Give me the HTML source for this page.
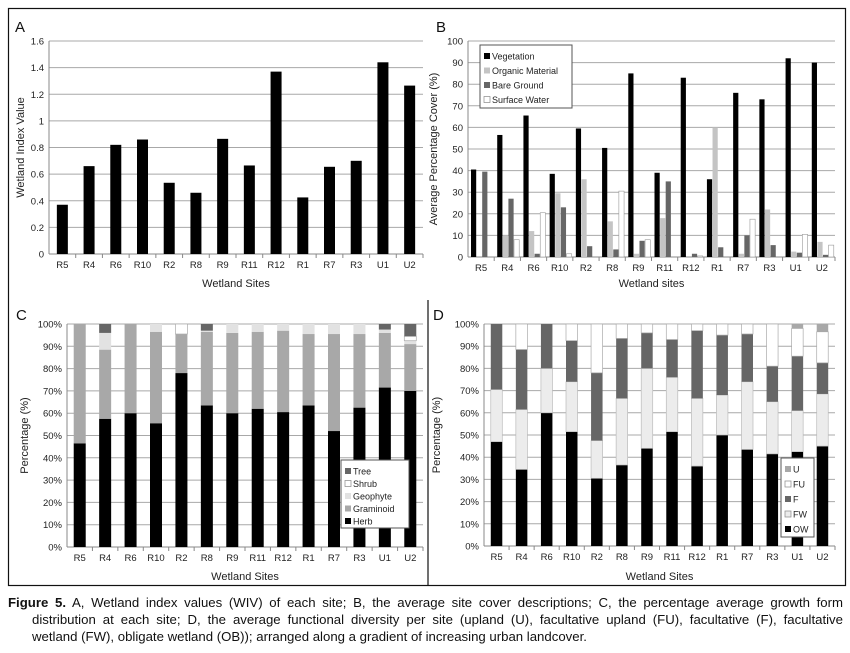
<!DOCTYPE html>
<html><head><meta charset="utf-8">
<style>
body{margin:0;background:#fff;width:850px;height:653px;overflow:hidden;font-family:"Liberation Sans",sans-serif;}
svg{position:absolute;left:0;top:0}
.cap{position:absolute;left:8px;width:835px;font-family:"Liberation Sans",sans-serif;font-size:13.2px;color:#111;line-height:17px;}
.cap div{white-space:nowrap;text-align:justify;text-align-last:justify;}
.cap div.last{text-align-last:left}
</style></head>
<body>
<svg id="fig" width="850" height="590"></svg>
<div class="cap" style="top:594px">
<div><b>Figure 5.</b> A, Wetland index values (WIV) of each site; B, the average site cover descriptions; C, the percentage average growth form</div>
<div style="padding-left:24px">distribution at each site; D, the average functional diversity per site (upland (U), facultative upland (FU), facultative (F), facultative</div>
<div class="last" style="padding-left:24px">wetland (FW), obligate wetland (OB)); arranged along a gradient of increasing urban landcover.</div>
</div>
<script>
const sites = ["R5","R4","R6","R10","R2","R8","R9","R11","R12","R1","R7","R3","U1","U2"];
const wivValues = [0.37,0.66,0.82,0.86,0.535,0.46,0.865,0.665,1.37,0.425,0.655,0.70,1.44,1.265];
const wivTicks = ["0","0.2","0.4","0.6","0.8","1","1.2","1.4","1.6"];
const vegetation = [40.5,56.5,65.5,38.5,59.5,50.5,85,39,83,36,76,73,92,90];
const organic = [0,10,12,29.5,36,16.5,1.5,18,0,60,1.5,22,2.5,7];
const bare = [39.5,27,1.5,23,5,3.5,7.5,35,1.5,4.5,10,5.5,2,1];
const water = [0,8,20.5,1.5,0,30.5,8,0,0.5,0,17.5,0,10.5,5.5];
const coverTicks = ["0","10","20","30","40","50","60","70","80","90","100"];
const herb = [46.5,57.5,60,55.5,78,63.5,60,62,60.5,63.5,52,62.5,71.5,70];
const graminoid = [53.5,31,40,41,17.5,33,36,34.5,36.5,32,43.5,33,24.5,21];
const geophyte = [0,7.5,0,3.5,0,0.5,4,3.5,3,4.5,4.5,4.5,1.5,1.5];
const shrub = [0,0,0,0,4.5,0,0,0,0,0,0,0,0,2];
const tree = [0,4,0,0,0,3,0,0,0,0,0,0,2.5,5.5];
const ow = [47,34.5,60,51.5,30.5,36.5,44,51.5,36,50,43.5,41.5,42.5,45];
const fw = [23.5,27,20,22.5,17,30,36,24.5,30.5,18,30.5,23.5,18.5,23.5];
const fac = [29.5,27,20,18.5,30.5,27,16,17,30.5,27,21.5,16,24.5,14];
const fu = [0,11.5,0,7.5,22,6.5,4,7,3,5,4.5,19,12.5,14];
const up = [0,0,0,0,0,0,0,0,0,0,0,0,2,3.5];
const pctTicks = ["0%","10%","20%","30%","40%","50%","60%","70%","80%","90%","100%"];

const NS="http://www.w3.org/2000/svg";
const svg=document.getElementById('fig');
function mk(tag,attrs,parent){const e=document.createElementNS(NS,tag);for(const k in attrs)e.setAttribute(k,attrs[k]);(parent||svg).appendChild(e);return e;}
function txt(x,y,s,attrs,parent){const t=mk('text',Object.assign({x:x,y:y,'font-family':'Liberation Sans, sans-serif','font-size':10,fill:'#222'},attrs),parent);t.textContent=s;return t;}

// frames
let f;
f=mk('rect',{x:8.5,y:8.5,width:837,height:577,fill:'none',stroke:'#111','stroke-width':1.2});


function panel(o){
  const g=mk('g',{});
  
  const x0=o.x0,x1=o.x1,yT=o.yT,yB=o.yB,n=sites.length,gw=(x1-x0)/n;
  const nt=o.ticks.length;
  const yScale=v=>yB-(v/o.max)*(yB-yT);
  for(let i=0;i<nt;i++){
    const v=o.max*i/(nt-1),y=yScale(v);
    const gl=mk('line',{x1:x0,x2:x1,y1:y,y2:y,stroke:'#a8a8a8','stroke-width':1},g);
    
    const tl=txt(x0-5,y+3.5,o.ticks[i],{'text-anchor':'end','font-size':9.5},g);
    
  }
  mk('line',{x1:x0,x2:x0,y1:yT,y2:yB,stroke:'#888'},g);
  mk('line',{x1:x0,x2:x1,y1:yB,y2:yB,stroke:'#888'},g);
  sites.forEach((s,i)=>{
    mk('line',{x1:x0+gw*(i+1),x2:x0+gw*(i+1),y1:yB,y2:yB+4,stroke:'#888'},g);
    const l=txt(x0+gw*(i+0.5),yB+14,s,{'text-anchor':'middle','font-size':9.5},g);
    
  });
  o.draw(g,x0,gw,yScale);
  const xt=txt((x0+x1)/2,o.xtY,o.xtitle,{'text-anchor':'middle','font-size':11},g);
  
  const yt=txt(0,0,o.ytitle,{'text-anchor':'middle','font-size':11,transform:`translate(${o.ytX},${(yT+yB)/2}) rotate(-90)`},g);
  
  const pl=txt(o.lx,o.ly,o.letter,{'font-size':15,fill:'#111'},g);
  
  return g;
}
function legend(g,x,y,w,h,items,rowH){
  const lg=mk('g',{},g);
  
  mk('rect',{x:x,y:y,width:w,height:h,fill:'#fff',stroke:'#555'},lg);
  items.forEach((it,i)=>{
    const e=mk('g',{},lg);
    
    const yy=y+8+i*rowH;
    mk('rect',{x:x+4,y:yy,width:6,height:6,fill:it[1],stroke:it[2]||'none','stroke-width':0.7},e);
    txt(x+12,yy+6.5,it[0],{'font-size':9},e);
  });
}
// stacked bars
function stack(series,colors,strokes,bw){
  return function(g,x0,gw,ys){
    sites.forEach((s,i)=>{
      let acc=0;
      series.forEach((arr,k)=>{
        const v=arr[i];if(v<=0){return;}
        const r=mk('rect',{x:x0+gw*(i+0.5)-bw/2,y:ys(acc+v),width:bw,height:ys(acc)-ys(acc+v),fill:colors[k],stroke:strokes[k]||'none','stroke-width':0.7},g);
        
        acc+=v;
      });
    });
  };
}

// Panel A
panel({name:'panel-a-wiv-chart',x0:49,x1:423,yT:41,yB:254,max:1.6,ticks:wivTicks,xtitle:'Wetland Sites',ytitle:'Wetland Index Value',xtY:287,ytX:24,letter:'A',lx:15,ly:32,
 draw:(g,x0,gw,ys)=>{wivValues.forEach((v,i)=>{const r=mk('rect',{x:x0+gw*(i+0.5)-5.5,y:ys(v),width:11,height:ys(0)-ys(v),fill:'#000'},g);
 });}});

// Panel B
const gB=panel({name:'panel-b-cover-chart',x0:468,x1:835,yT:41,yB:257,max:100,ticks:coverTicks,xtitle:'Wetland sites',ytitle:'Average Percentage Cover (%)',xtY:287,ytX:437,letter:'B',lx:436,ly:32,
 draw:(g,x0,gw,ys)=>{const ser=[vegetation,organic,bare,water],col=['#000','#c4c4c4','#666','#fff'],st=[null,null,null,'#999'];
  sites.forEach((s,i)=>{ser.forEach((arr,k)=>{const v=arr[i];const r=mk('rect',{x:x0+gw*i+3+k*5.6,y:ys(v),width:5.2,height:ys(0)-ys(v),fill:col[k],stroke:st[k]||'none','stroke-width':0.6},g);
   });});}});
legend(gB,480,45,92,63,[['Vegetation','#000'],['Organic Material','#c4c4c4'],['Bare Ground','#666'],['Surface Water','#fff','#888']],14.5);

// Panel C
const gC=panel({name:'panel-c-growth-form-chart',x0:67,x1:423,yT:324,yB:547,max:100,ticks:pctTicks,xtitle:'Wetland Sites',ytitle:'Percentage (%)',xtY:580,ytX:28,letter:'C',lx:16,ly:320,
 draw:stack([herb,graminoid,geophyte,shrub,tree],['#000','#a8a8a8','#e2e2e2','#fff','#666'],[null,null,null,'#aaa',null],12)});
legend(gC,341,460,68,68,[['Tree','#666'],['Shrub','#fff','#888'],['Geophyte','#e2e2e2'],['Graminoid','#a8a8a8'],['Herb','#000']],12.5);

// Panel D
const gD=panel({name:'panel-d-functional-chart',x0:484,x1:835,yT:324,yB:546,max:100,ticks:pctTicks,xtitle:'Wetland Sites',ytitle:'Percentage (%)',xtY:580,ytX:440,letter:'D',lx:433,ly:320,
 draw:stack([ow,fw,fac,fu,up],['#000','#ececec','#666','#fff','#a8a8a8'],[null,'#bbb',null,'#aaa',null],11.5)});
legend(gD,781,458,33,79,[['U','#a8a8a8'],['FU','#fff','#888'],['F','#666'],['FW','#ececec','#888'],['OW','#000']],15);

// panel dividers
mk('line',{x1:428,x2:428,y1:300,y2:586,stroke:'#111','stroke-width':1.2});
</script>
</body></html>
